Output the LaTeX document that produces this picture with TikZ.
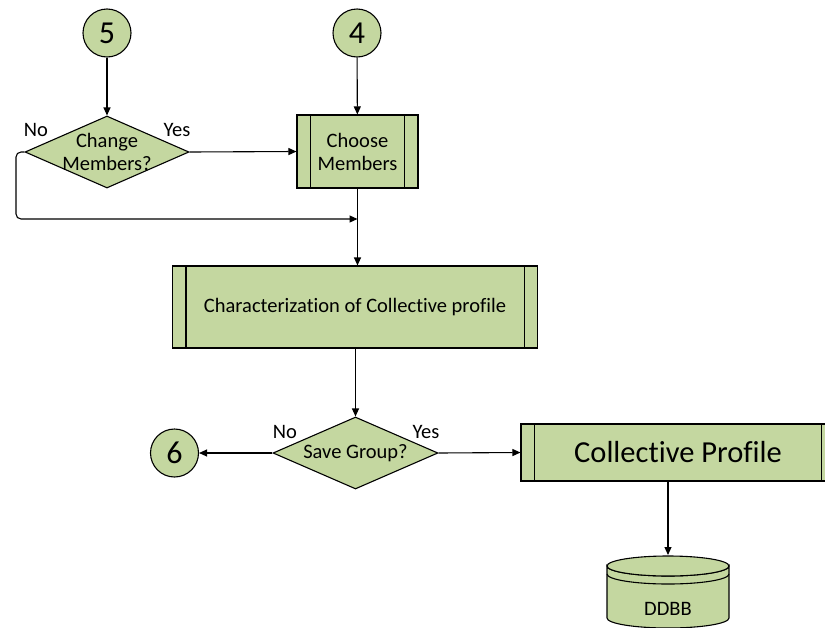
\documentclass[tikz,border=0pt]{standalone}
\usepackage{fontspec}
\setmainfont[Ligatures=NoCommon]{Carlito}
\usetikzlibrary{shapes.geometric,arrows.meta}
\definecolor{boxgreen}{RGB}{196,215,160}
\tikzset{
  flow/.style={draw=black, -{Triangle[length=8pt,width=7pt]}},
  connector/.style={circle, draw, fill=boxgreen, minimum size=48pt, inner sep=0pt, font=\fontsize{32}{34}\selectfont},
  procbox/.style={rectangle, draw, fill=boxgreen, inner sep=0pt, font=\fontsize{20.5}{24}\selectfont, align=center},
  decision/.style={diamond, draw, fill=boxgreen, inner sep=0pt},
  txt/.style={inner sep=0pt, font=\fontsize{20.5}{24}\selectfont, align=center},
}
\begin{document}
\begin{tikzpicture}[x=1pt, y=-1pt, line width=1.1pt]
\useasboundingbox (0,0) rectangle (825,627);
\clip (0,0) rectangle (825,627);

% off-page connectors
\node[connector] (c5) at (107,33) {5};
\node[connector] (c4) at (357,33) {4};
\node[connector] (c6) at (174.5,453) {6};

% first decision
\node[decision, minimum width=164pt, minimum height=72pt] (d1) at (107,152) {};
\node[txt] (d1t) at (107,152) {Change\\[-1pt]Members?};
\node[txt] (no1) at (36,130) {No};
\node[txt] (yes1) at (177,130) {Yes};

% choose members (predefined process)
\node[procbox, minimum width=121pt, minimum height=73pt] (choose) at (357.5,151.5) {Choose\\[-1pt]Members};
\draw ([xshift=14pt]choose.north west) -- ([xshift=14pt]choose.south west);
\draw ([xshift=-14pt]choose.north east) -- ([xshift=-14pt]choose.south east);

% characterization (predefined process)
\node[procbox, minimum width=365pt, minimum height=82pt] (charac) at (355,307) {Characterization of Collective profile};
\draw ([xshift=14pt]charac.north west) -- ([xshift=14pt]charac.south west);
\draw ([xshift=-14pt]charac.north east) -- ([xshift=-14pt]charac.south east);

% second decision
\node[decision, minimum width=165pt, minimum height=72pt] (d2) at (355.5,453) {};
\node[txt] (d2t) at (355.5,453) {Save Group?};
\node[txt] (no2) at (285,432) {No};
\node[txt] (yes2) at (426,432) {Yes};

% collective profile (predefined process)
\node[procbox, minimum width=314pt, minimum height=57pt, font=\fontsize{30.5}{34}\selectfont] (cprof) at (678,452.5) {Collective Profile};
\draw ([xshift=14pt]cprof.north west) -- ([xshift=14pt]cprof.south west);
\draw ([xshift=-14pt]cprof.north east) -- ([xshift=-14pt]cprof.south east);

% database cylinder
\coordinate (dbtop) at (668,555);
\filldraw[fill=boxgreen] (607,566) arc[start angle=180, end angle=360, x radius=61pt, y radius=10pt]
  -- (729,618) arc[start angle=0, end angle=-180, x radius=61pt, y radius=10pt] -- cycle;
\filldraw[fill=boxgreen] (668,566) ellipse[x radius=61pt, y radius=10pt];
\draw (607,574) arc[start angle=180, end angle=360, x radius=61pt, y radius=10pt];
\node[txt] (ddbb) at (668,609) {DDBB};

% connections
\draw[flow] (c5) -- (d1.north);
\draw[flow] (c4) -- (choose);
\draw[flow] (d1.east) -- (choose.west);
\coordinate (join) at (357.5,219);
\draw[flow, rounded corners=5pt] (d1.west) -- (16,152) -- (16,219) -- (join);
\draw[flow] (choose.south) -- (choose.south |- charac.north);
\draw[flow] (charac.south -| 355.5,0) -- (d2.north);
\draw[flow] (d2.west) -- (c6);
\draw[flow] (d2.east) -- (cprof.west);
\draw[flow] (cprof.south -| 668,0) -- (dbtop);
\end{tikzpicture}
\end{document}
